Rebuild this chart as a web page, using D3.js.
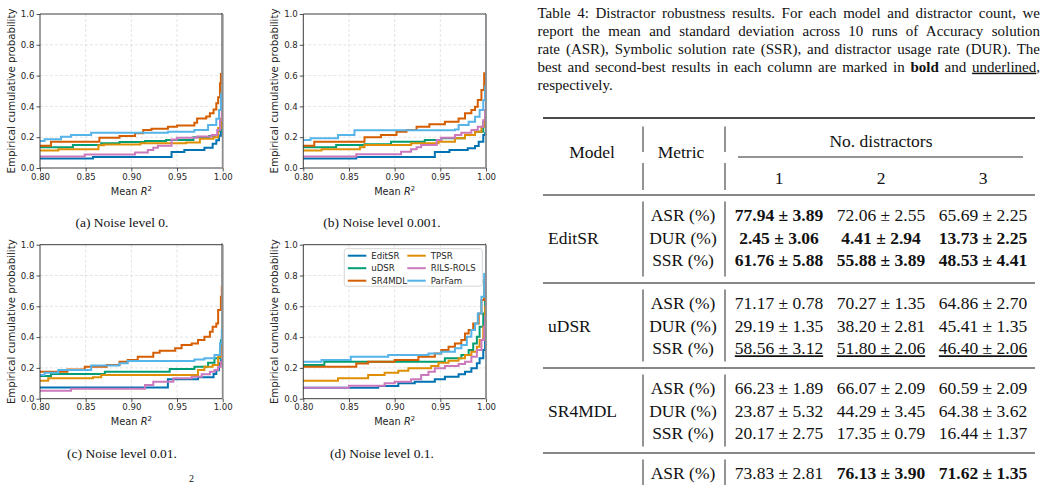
<!DOCTYPE html>
<html>
<head>
<meta charset="utf-8">
<script src="https://cdn.jsdelivr.net/npm/d3@7/dist/d3.min.js"></script>
<style>
body { margin: 0; background: #fff; }
svg text { font-family: "DejaVu Sans", sans-serif; fill: #262626; }
svg text.serif { font-family: "Liberation Serif", "Times New Roman", serif; fill: #111; }
</style>
</head>
<body>
<svg id="fig" width="1047" height="485"></svg>
<script>
// ---- figure data ----
var models = ["EditSR", "uDSR", "SR4MDL", "TPSR", "RILS-ROLS", "ParFam"];
var modelColors = ["#0173b2", "#029e73", "#d55e00", "#de8f05", "#cc78bc", "#56b4e9"];
var xTicks = [0.80, 0.85, 0.90, 0.95, 1.00];
var yTicks = [0.0, 0.2, 0.4, 0.6, 0.8, 1.0];
var panelCaptions = ["(a) Noise level 0.", "(b) Noise level 0.001.", "(c) Noise level 0.01.", "(d) Noise level 0.1."];

// step points [mean R2, cumulative prob] per model, same order as models
var ecdfNoise0 = [
    [[0.8,0.061],[0.858,0.071],[0.944,0.104],[0.958,0.117],[0.98,0.132],[0.989,0.158],[0.993,0.18],[0.996,0.21],[0.998,0.235]],
    [[0.8,0.134],[0.836,0.149],[0.867,0.16],[0.887,0.169],[0.915,0.176],[0.938,0.182],[0.968,0.2],[0.985,0.208],[0.991,0.215],[0.995,0.24],[0.998,0.3]],
    [[0.8,0.145],[0.812,0.171],[0.865,0.197],[0.887,0.208],[0.904,0.225],[0.913,0.247],[0.922,0.255],[0.94,0.268],[0.95,0.276],[0.969,0.294],[0.972,0.322],[0.982,0.335],[0.986,0.356],[0.99,0.38],[0.993,0.42],[0.995,0.46],[0.997,0.55],[0.998,0.61]],
    [[0.8,0.113],[0.82,0.121],[0.864,0.147],[0.87,0.152],[0.91,0.16],[0.96,0.165],[0.975,0.19],[0.99,0.2],[0.995,0.26],[0.998,0.32]],
    [[0.8,0.074],[0.849,0.087],[0.904,0.1],[0.918,0.117],[0.924,0.132],[0.929,0.145],[0.944,0.185],[0.95,0.197],[0.972,0.205],[0.988,0.214],[0.994,0.247],[0.997,0.31],[0.999,0.36]],
    [[0.8,0.175],[0.805,0.186],[0.823,0.203],[0.834,0.214],[0.856,0.229],[0.94,0.236],[0.969,0.247],[0.984,0.28],[0.993,0.32],[0.996,0.377],[0.998,0.48]]
];
var ecdfNoise0001 = [
    [[0.8,0.061],[0.858,0.071],[0.944,0.104],[0.96,0.117],[0.98,0.128],[0.988,0.143],[0.992,0.171],[0.997,0.214],[0.999,0.225]],
    [[0.8,0.134],[0.836,0.149],[0.867,0.155],[0.896,0.171],[0.933,0.182],[0.951,0.193],[0.977,0.214],[0.988,0.236],[0.997,0.3],[0.999,0.333]],
    [[0.8,0.145],[0.812,0.171],[0.867,0.199],[0.885,0.214],[0.902,0.236],[0.913,0.247],[0.924,0.268],[0.938,0.284],[0.955,0.3],[0.97,0.322],[0.977,0.355],[0.984,0.377],[0.988,0.398],[0.991,0.442],[0.995,0.506],[0.998,0.615]],
    [[0.8,0.113],[0.82,0.121],[0.862,0.134],[0.867,0.149],[0.918,0.16],[0.948,0.171],[0.966,0.193],[0.977,0.214],[0.988,0.236],[0.995,0.268],[0.998,0.31]],
    [[0.8,0.074],[0.858,0.09],[0.907,0.106],[0.918,0.121],[0.924,0.134],[0.929,0.149],[0.946,0.182],[0.951,0.197],[0.966,0.214],[0.973,0.229],[0.984,0.247],[0.991,0.268],[0.997,0.31],[0.999,0.376]],
    [[0.8,0.182],[0.808,0.193],[0.838,0.214],[0.856,0.245],[0.966,0.25],[0.97,0.279],[0.981,0.3],[0.988,0.333],[0.993,0.377],[0.997,0.44],[0.999,0.53]]
];
var ecdfNoise001 = [
    [[0.8,0.073],[0.94,0.126],[0.973,0.139],[0.99,0.16],[0.993,0.185],[0.996,0.23],[0.998,0.25]],
    [[0.8,0.147],[0.812,0.16],[0.871,0.175],[0.942,0.193],[0.969,0.208],[0.984,0.234],[0.991,0.262],[0.997,0.316],[0.998,0.38]],
    [[0.8,0.175],[0.83,0.19],[0.849,0.208],[0.873,0.219],[0.887,0.24],[0.896,0.251],[0.907,0.273],[0.924,0.299],[0.931,0.312],[0.948,0.327],[0.955,0.348],[0.966,0.359],[0.973,0.381],[0.98,0.403],[0.986,0.435],[0.989,0.468],[0.993,0.489],[0.995,0.576],[0.998,0.662],[0.999,0.727]],
    [[0.8,0.117],[0.809,0.132],[0.858,0.139],[0.867,0.154],[0.973,0.186],[0.98,0.208],[0.989,0.219],[0.995,0.273],[0.998,0.338]],
    [[0.8,0.052],[0.834,0.065],[0.915,0.089],[0.924,0.11],[0.946,0.132],[0.966,0.143],[0.977,0.158],[0.986,0.175],[0.991,0.186],[0.995,0.208],[0.998,0.24]],
    [[0.8,0.154],[0.805,0.169],[0.82,0.186],[0.856,0.215],[0.887,0.23],[0.896,0.245],[0.969,0.255],[0.98,0.262],[0.991,0.283],[0.997,0.36],[0.999,0.446]]
];
var ecdfNoise01 = [
    [[0.8,0.071],[0.882,0.082],[0.904,0.1],[0.922,0.11],[0.944,0.126],[0.955,0.143],[0.97,0.158],[0.977,0.175],[0.984,0.197],[0.99,0.23],[0.993,0.262],[0.997,0.316],[0.999,0.381]],
    [[0.8,0.219],[0.823,0.24],[0.955,0.262],[0.973,0.284],[0.981,0.316],[0.986,0.359],[0.99,0.403],[0.993,0.468],[0.997,0.554],[0.999,0.706]],
    [[0.8,0.208],[0.858,0.229],[0.871,0.24],[0.9,0.251],[0.926,0.273],[0.944,0.294],[0.951,0.316],[0.959,0.338],[0.966,0.359],[0.973,0.381],[0.977,0.424],[0.981,0.446],[0.986,0.489],[0.992,0.554],[0.995,0.641],[0.998,0.77]],
    [[0.8,0.117],[0.838,0.132],[0.871,0.154],[0.889,0.169],[0.904,0.182],[0.915,0.197],[0.94,0.212],[0.948,0.234],[0.959,0.247],[0.97,0.262],[0.977,0.284],[0.984,0.305],[0.99,0.338],[0.993,0.381],[0.997,0.468],[0.999,0.597]],
    [[0.8,0.071],[0.85,0.084],[0.889,0.1],[0.9,0.11],[0.918,0.126],[0.929,0.154],[0.937,0.175],[0.944,0.197],[0.955,0.212],[0.97,0.225],[0.977,0.24],[0.984,0.273],[0.99,0.316],[0.995,0.381],[0.998,0.468],[0.999,0.532]],
    [[0.8,0.24],[0.82,0.251],[0.852,0.273],[0.893,0.284],[0.937,0.294],[0.951,0.305],[0.966,0.327],[0.973,0.348],[0.979,0.403],[0.984,0.446],[0.988,0.489],[0.991,0.554],[0.995,0.662],[0.998,0.81]]
];

// ---- table data ----
var captionLines = [
    "Table 4: Distractor robustness results. For each model and distractor count, we",
    "report the mean and standard deviation across 10 runs of Accuracy solution",
    "rate (ASR), Symbolic solution rate (SSR), and distractor usage rate (DUR). The",
    "best and second-best results in each column are marked in |bold| and _underlined_,",
    "respectively."
];
var tableModels = ["EditSR", "uDSR", "SR4MDL", ""];
var tableMetrics = ["ASR (%)", "DUR (%)", "SSR (%)"];
var distractorCounts = ["1", "2", "3"];
var asrMean = [[77.94, 72.06, 65.69], [71.17, 70.27, 64.86], [66.23, 66.07, 60.59], [73.83, 76.13, 71.62]];
var asrStd  = [[3.89, 2.55, 2.25], [0.78, 1.35, 2.70], [1.89, 2.09, 2.09], [2.81, 3.90, 1.35]];
var durMean = [[2.45, 4.41, 13.73], [29.19, 38.20, 45.41], [23.87, 44.29, 64.38]];
var durStd  = [[3.06, 2.94, 2.25], [1.35, 2.81, 1.35], [5.32, 3.45, 3.62]];
var ssrMean = [[61.76, 55.88, 48.53], [58.56, 51.80, 46.40], [20.17, 17.35, 16.44]];
var ssrStd  = [[5.88, 3.89, 4.41], [3.12, 2.06, 2.06], [2.75, 0.79, 1.37]];
// [group, metric, column]
var boldCells = [[0,0,0], [0,1,0], [0,1,1], [0,1,2], [0,2,0], [0,2,1], [0,2,2], [3,0,1], [3,0,2]];
var underlinedCells = [[1,2,0], [1,2,1], [1,2,2]];

var svg = d3.select("#fig");
var defs = svg.append("defs");

// ================= ECDF panels =================
var panels = [ecdfNoise0, ecdfNoise0001, ecdfNoise001, ecdfNoise01];
var panelPos = [[40, 14], [303.3, 14], [40, 244.7], [303.3, 244.7]];
var captionPos = [[122, 226.5], [382, 226.5], [122, 457.5], [382, 457.5]];
var pw = 182.7, ph = 154;

var x = d3.scaleLinear().domain([0.8, 1.0]).range([0, pw]);
var y = d3.scaleLinear().domain([0, 1]).range([ph, 0]);
var step = d3.line()
    .x(function(d) { return x(d[0]); })
    .y(function(d) { return y(d[1]); })
    .curve(d3.curveStepAfter);

panels.forEach(function(series, i) {
    var g = svg.append("g").attr("transform", "translate(" + panelPos[i][0] + "," + panelPos[i][1] + ")");

    defs.append("clipPath").attr("id", "clip" + i)
        .append("rect").attr("x", 0).attr("y", -2).attr("width", pw).attr("height", ph + 2);

    // dashed grid
    g.selectAll(".gx").data(xTicks.slice(1, -1)).enter().append("line")
        .attr("x1", function(d) { return x(d); }).attr("x2", function(d) { return x(d); })
        .attr("y1", 0).attr("y2", ph)
        .attr("stroke", "#dddddd").attr("stroke-width", 0.8).attr("stroke-dasharray", "3,2");
    g.selectAll(".gy").data(yTicks.slice(1, -1)).enter().append("line")
        .attr("y1", function(d) { return y(d); }).attr("y2", function(d) { return y(d); })
        .attr("x1", 0).attr("x2", pw)
        .attr("stroke", "#dddddd").attr("stroke-width", 0.8).attr("stroke-dasharray", "3,2");

    var lines = g.append("g").attr("clip-path", "url(#clip" + i + ")");
    series.forEach(function(pts, k) {
        var d = [[0.79, pts[0][1]]].concat(pts).concat([[1.0, 1.0], [1.01, 1.0]]);
        lines.append("path")
            .attr("d", step(d))
            .attr("fill", "none")
            .attr("stroke", modelColors[k])
            .attr("stroke-width", 2)
            .attr("stroke-linejoin", "miter");
    });

    // axes
    var xa = g.append("g").attr("transform", "translate(0," + ph + ")")
        .call(d3.axisBottom(x).tickValues(xTicks).tickFormat(d3.format(".2f")).tickSize(3.5).tickPadding(2));
    var ya = g.append("g")
        .call(d3.axisLeft(y).tickValues(yTicks).tickFormat(d3.format(".1f")).tickSize(3.5).tickPadding(2));
    [xa, ya].forEach(function(a) {
        a.select(".domain").remove();
        a.selectAll(".tick line").attr("stroke", "#262626").attr("stroke-width", 0.8);
        a.selectAll(".tick text").attr("font-size", 8.6).attr("fill", "#262626")
            .style("font-family", "'DejaVu Sans', sans-serif");
    });

    // spines
    g.append("path").attr("d", "M0," + ph + "V0H" + pw)
        .attr("fill", "none").attr("stroke", "#262626").attr("stroke-width", 0.9);
    g.append("line").attr("x1", 0).attr("x2", pw).attr("y1", ph).attr("y2", ph)
        .attr("stroke", "#262626").attr("stroke-width", 0.9);
    g.append("line").attr("x1", pw).attr("x2", pw).attr("y1", 0).attr("y2", ph)
        .attr("stroke", "#8c8c8c").attr("stroke-width", 1.8);

    // labels
    var xl = g.append("text").attr("x", pw / 2).attr("y", ph + 26.5)
        .attr("text-anchor", "middle").attr("font-size", 9.8);
    xl.append("tspan").text("Mean ");
    xl.append("tspan").attr("font-style", "italic").text("R");
    xl.append("tspan").attr("font-size", 6.9).attr("dy", -4).text("2");

    g.append("text")
        .attr("transform", "translate(-25," + (ph / 2) + ") rotate(-90)")
        .attr("text-anchor", "middle").attr("font-size", 10.2)
        .text("Empirical cumulative probability");

    svg.append("text").attr("class", "serif")
        .attr("x", captionPos[i][0]).attr("y", captionPos[i][1])
        .attr("text-anchor", "middle").attr("font-size", 13.5)
        .text(panelCaptions[i]);

    // legend only in last panel
    if (i === 3) {
        var lg = g.append("g").attr("transform", "translate(41,4)");
        lg.append("rect").attr("width", 138).attr("height", 37.5).attr("rx", 2.5)
            .attr("fill", "#fff").attr("fill-opacity", 0.85)
            .attr("stroke", "#cccccc").attr("stroke-width", 0.8);
        models.forEach(function(m, k) {
            var col = Math.floor(k / 3), row = k % 3;
            var e = lg.append("g").attr("transform", "translate(" + (3.5 + col * 59.5) + "," + (7 + row * 12.5) + ")");
            e.append("line").attr("x1", 0).attr("x2", 18.5).attr("stroke", modelColors[k]).attr("stroke-width", 2);
            e.append("text").attr("x", 23.5).attr("y", 3.2).attr("font-size", 8.6).text(m);
        });
    }
});

// stray superscript from the next caption line
svg.append("text").attr("class", "serif").attr("x", 189).attr("y", 482).attr("font-size", 10).text("2");

// ================= table caption =================
var capX0 = 537.5, capX1 = 1040, capFont = 15;
captionLines.forEach(function(l, i) {
    var t = svg.append("text").attr("class", "serif")
        .attr("x", capX0).attr("y", 18 + i * 17.9).attr("font-size", capFont);
    // |bold| and _underlined_ markup
    l.split(/(\|[^|]+\||_[^_]+_)/).forEach(function(part) {
        if (!part) return;
        var ts = t.append("tspan");
        if (part[0] === "|") ts.attr("font-weight", "bold").text(part.slice(1, -1));
        else if (part[0] === "_") ts.style("text-decoration", "underline").text(part.slice(1, -1));
        else ts.text(part);
    });
    if (i < captionLines.length - 1) {
        var natural = t.node().getComputedTextLength();
        var spaces = (t.node().textContent.match(/ /g) || []).length;
        t.attr("word-spacing", (capX1 - capX0 - natural) / spaces);
    }
});

// ================= table =================
var tFont = 17.5;
var ruleLeft = 543, ruleRight = 1035;
var vLines = [643, 725];
var modelX = 548, metricX = 683;
var colX = d3.scalePoint().domain(distractorCounts).range([779, 983]);
var ruleY = [195, 283, 368, 453];
function rowY(gi, r) { return ruleY[gi] + 20.5 + r * 22.5; }

var tb = svg.append("g");
function tText(xp, yc, s, anchor) {
    return tb.append("text").attr("class", "serif")
        .attr("x", xp).attr("y", yc + tFont * 0.33)
        .attr("font-size", tFont).attr("text-anchor", anchor || "middle").text(s);
}
function hLine(x1, x2, yp, w) {
    tb.append("line").attr("x1", x1).attr("x2", x2).attr("y1", yp).attr("y2", yp)
        .attr("stroke", "#111").attr("stroke-width", w);
}
function vSeg(y1, y2) {
    vLines.forEach(function(xp) {
        tb.append("line").attr("x1", xp).attr("x2", xp).attr("y1", y1).attr("y2", y2)
            .attr("stroke", "#111").attr("stroke-width", 0.9);
    });
}

hLine(ruleLeft, ruleRight, 118, 1.6);
tText(592, 152, "Model");
tText(681, 152, "Metric");
tText(881, 141, "No. distractors");
hLine(738, 1023, 157, 0.9);
distractorCounts.forEach(function(c) { tText(colX(c), 178.5, c); });
vSeg(126.5, 152);
vSeg(163, 190);

var metricData = [[asrMean, asrStd], [durMean, durStd], [ssrMean, ssrStd]];
var fmt = d3.format(".2f");
function isIn(list, gi, m, c) {
    return list.some(function(e) { return e[0] === gi && e[1] === m && e[2] === c; });
}

tableModels.forEach(function(model, gi) {
    hLine(ruleLeft, ruleRight, ruleY[gi], 1.1);
    var nRows = 0;
    metricData.forEach(function(md, m) {
        if (!md[0][gi]) return;
        nRows++;
        var yc = rowY(gi, m);
        tText(metricX, yc, tableMetrics[m]);
        distractorCounts.forEach(function(c, ci) {
            var t = tText(colX(c), yc, fmt(md[0][gi][ci]) + " \u00b1 " + fmt(md[1][gi][ci]));
            if (isIn(boldCells, gi, m, ci)) t.attr("font-weight", "bold");
            if (isIn(underlinedCells, gi, m, ci)) t.style("text-decoration", "underline");
        });
    });
    if (model) tText(modelX, rowY(gi, 1), model, "start");
    vSeg(ruleY[gi] + 6.5, nRows === 3 ? (gi + 1 < ruleY.length ? ruleY[gi + 1] - 6.5 : ruleY[gi] + 82) : 500);
});
</script>
</body>
</html>
